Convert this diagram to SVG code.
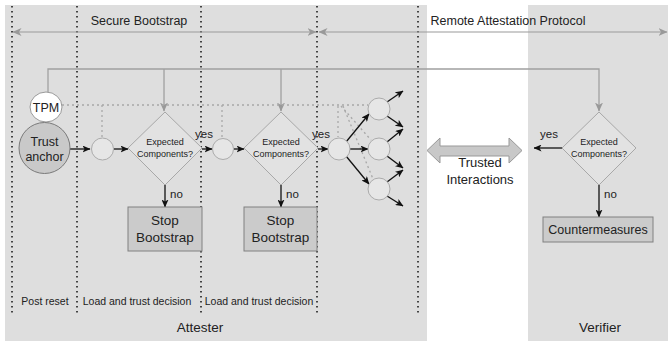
<svg xmlns="http://www.w3.org/2000/svg" width="668" height="341" viewBox="0 0 668 341">
<style>
text{font-family:"Liberation Sans",Arial,sans-serif;fill:#222}
.bg{fill:#dedede}
.sep{stroke:#111;stroke-width:1.5;stroke-dasharray:1.5 3.5;fill:none}
.gl{stroke:#a0a0a0;stroke-width:1.3;fill:none}
.dot{stroke:#a8a8a8;stroke-width:1.3;stroke-dasharray:2 3;fill:none}
.bl{stroke:#111;stroke-width:1.3;fill:none;marker-end:url(#ab)}
.sm{fill:#e6e6e6;stroke:#ababab;stroke-width:1}
.dia{fill:#e2e2e2;stroke:#a8a8a8;stroke-width:1}
.box{fill:#cbcbcb;stroke:#808080;stroke-width:1}
.dt{font-size:9px}
.yn{font-size:11.5px}
.bt{font-size:10.5px}
</style>
<defs>
<marker id="ab" markerWidth="8" markerHeight="7" refX="7.5" refY="3.5" orient="auto" markerUnits="userSpaceOnUse"><path d="M0,0 L8,3.5 L0,7 L2,3.5 z" fill="#111"/></marker>
<marker id="ag" markerWidth="9" markerHeight="8" refX="8.5" refY="4" orient="auto" markerUnits="userSpaceOnUse"><path d="M0,0 L9,4 L0,8 L2.5,4 z" fill="#999"/></marker>
<marker id="ag2" markerWidth="9" markerHeight="8" refX="8.5" refY="4" orient="auto-start-reverse" markerUnits="userSpaceOnUse"><path d="M0,0 L9,4 L0,8 L2.5,4 z" fill="#999"/></marker>
</defs>
<rect width="668" height="341" fill="#fff"/>
<g id="attester-area"><rect class="bg" x="5" y="5" width="422" height="336"/></g>
<g id="verifier-area"><rect class="bg" x="528" y="5" width="140" height="336"/></g>
<g id="phase-separators">
<line class="sep" x1="12" y1="6" x2="12" y2="316"/>
<line class="sep" x1="77" y1="6" x2="77" y2="316"/>
<line class="sep" x1="201" y1="6" x2="201" y2="316"/>
<line class="sep" x1="317" y1="6" x2="317" y2="316"/>
<line class="sep" x1="418" y1="6" x2="418" y2="316"/>
</g>
<g id="phase-arrows">
<line x1="13" y1="32" x2="316" y2="32" stroke="#999" stroke-width="1.2" marker-start="url(#ag2)" marker-end="url(#ag2)"/>
<line x1="319" y1="32" x2="667" y2="32" stroke="#999" stroke-width="1.2" marker-start="url(#ag2)" marker-end="url(#ag2)"/>
<text x="139" y="25" font-size="12.5" text-anchor="middle">Secure Bootstrap</text>
<text x="508" y="25" font-size="12.5" text-anchor="middle">Remote Attestation Protocol</text>
</g>
<g id="connectors">
<path class="gl" d="M48,92 V69 H599 V111" marker-end="url(#ag)"/>
<path class="gl" d="M164,69 V111" marker-end="url(#ag)"/>
<path class="gl" d="M281,69 V111" marker-end="url(#ag)"/>
<path class="dot" d="M62,105 H368"/>
<path class="dot" d="M102,105 V138"/>
<path class="dot" d="M222,105 V138"/>
<path class="dot" d="M338,106 V137"/>
<path class="dot" d="M341,106 L371,140"/>
<path class="dot" d="M343,106 L373,179"/>
<line class="bl" x1="70" y1="149" x2="90" y2="149"/>
<line class="bl" x1="114" y1="149" x2="128" y2="149"/>
<line class="bl" x1="202" y1="149" x2="212" y2="149"/>
<line class="bl" x1="234" y1="149" x2="244" y2="149"/>
<line class="bl" x1="318" y1="149" x2="328" y2="149"/>
<line class="bl" x1="165" y1="185" x2="165" y2="207"/>
<line class="bl" x1="281" y1="185" x2="281" y2="207"/>
<line class="bl" x1="346" y1="142" x2="369" y2="114"/>
<line class="bl" x1="350" y1="149" x2="368" y2="149"/>
<line class="bl" x1="346" y1="156" x2="369" y2="184"/>
<line class="bl" x1="387" y1="102" x2="403" y2="91"/>
<line class="bl" x1="387" y1="116" x2="403" y2="127"/>
<line class="bl" x1="387" y1="142" x2="403" y2="129"/>
<line class="bl" x1="387" y1="156" x2="403" y2="168"/>
<line class="bl" x1="387" y1="182" x2="403" y2="170"/>
<line class="bl" x1="387" y1="196" x2="403" y2="206"/>
<line class="bl" x1="563" y1="148" x2="534" y2="148"/>
<line class="bl" x1="599" y1="185" x2="599" y2="217"/>
<text class="yn" x="195" y="138">yes</text>
<text class="yn" x="312" y="138">yes</text>
<text class="yn" x="540" y="138">yes</text>
<text class="yn" x="170" y="198">no</text>
<text class="yn" x="286" y="198">no</text>
<text class="yn" x="604" y="198">no</text>
</g>
<g id="tpm">
<ellipse cx="46" cy="107" rx="16" ry="15" fill="#fff" stroke="#999" stroke-width="1"/>
<text x="46" y="112" font-size="12.5" text-anchor="middle">TPM</text>
</g>
<g id="trust-anchor">
<circle cx="44.5" cy="148" r="25.5" fill="#c9c9c9" stroke="#7a7a7a" stroke-width="1"/>
<text x="44.5" y="146" font-size="12.5" text-anchor="middle">Trust</text>
<text x="44.5" y="161" font-size="12.5" text-anchor="middle">anchor</text>
</g>
<g id="load1"><circle class="sm" cx="102.5" cy="149" r="11"/></g>
<g id="check1">
<polygon class="dia" points="165,112 202,148 165,185 128,148"/>
<text class="dt" x="165" y="145" text-anchor="middle">Expected</text>
<text class="dt" x="165" y="157" text-anchor="middle">Components?</text>
</g>
<g id="stop1">
<rect class="box" x="128" y="207" width="74" height="44"/>
<text x="165" y="225" font-size="13.5" text-anchor="middle">Stop</text>
<text x="165" y="242" font-size="13.5" text-anchor="middle">Bootstrap</text>
</g>
<g id="load2"><circle class="sm" cx="223" cy="149" r="10.5"/></g>
<g id="check2">
<polygon class="dia" points="281,112 318,148 281,185 244,148"/>
<text class="dt" x="281" y="145" text-anchor="middle">Expected</text>
<text class="dt" x="281" y="157" text-anchor="middle">Components?</text>
</g>
<g id="stop2">
<rect class="box" x="244" y="207" width="73" height="44"/>
<text x="280.5" y="225" font-size="13.5" text-anchor="middle">Stop</text>
<text x="280.5" y="242" font-size="13.5" text-anchor="middle">Bootstrap</text>
</g>
<g id="load3"><circle class="sm" cx="339" cy="149" r="11"/></g>
<g id="load4a"><circle class="sm" cx="379" cy="109" r="11"/></g>
<g id="load4b"><circle class="sm" cx="379" cy="149" r="11"/></g>
<g id="load4c"><circle class="sm" cx="379" cy="189" r="11"/></g>
<g id="trusted-interactions">
<polygon points="427,150.5 440,138 440,146 509,146 509,138 522,150.5 509,163 509,156 440,156 440,163" fill="#c8c8c8" stroke="#999" stroke-width="1"/>
<text x="480" y="167" font-size="13" text-anchor="middle">Trusted</text>
<text x="480" y="184" font-size="13" text-anchor="middle">Interactions</text>
</g>
<g id="verifier-check">
<polygon class="dia" points="599,112 636,148 599,185 562,148"/>
<text class="dt" x="599" y="145" text-anchor="middle">Expected</text>
<text class="dt" x="599" y="157" text-anchor="middle">Components?</text>
</g>
<g id="countermeasures">
<rect class="box" x="543" y="217" width="110" height="25"/>
<text x="598" y="234" font-size="12.5" text-anchor="middle">Countermeasures</text>
</g>
<g id="labels">
<text class="bt" x="45" y="305" text-anchor="middle">Post reset</text>
<text class="bt" x="137" y="305" text-anchor="middle">Load and trust decision</text>
<text class="bt" x="259" y="305" text-anchor="middle">Load and trust decision</text>
<text x="200" y="332" font-size="13.5" text-anchor="middle">Attester</text>
<text x="600" y="332" font-size="13.5" text-anchor="middle">Verifier</text>
</g>
</svg>
